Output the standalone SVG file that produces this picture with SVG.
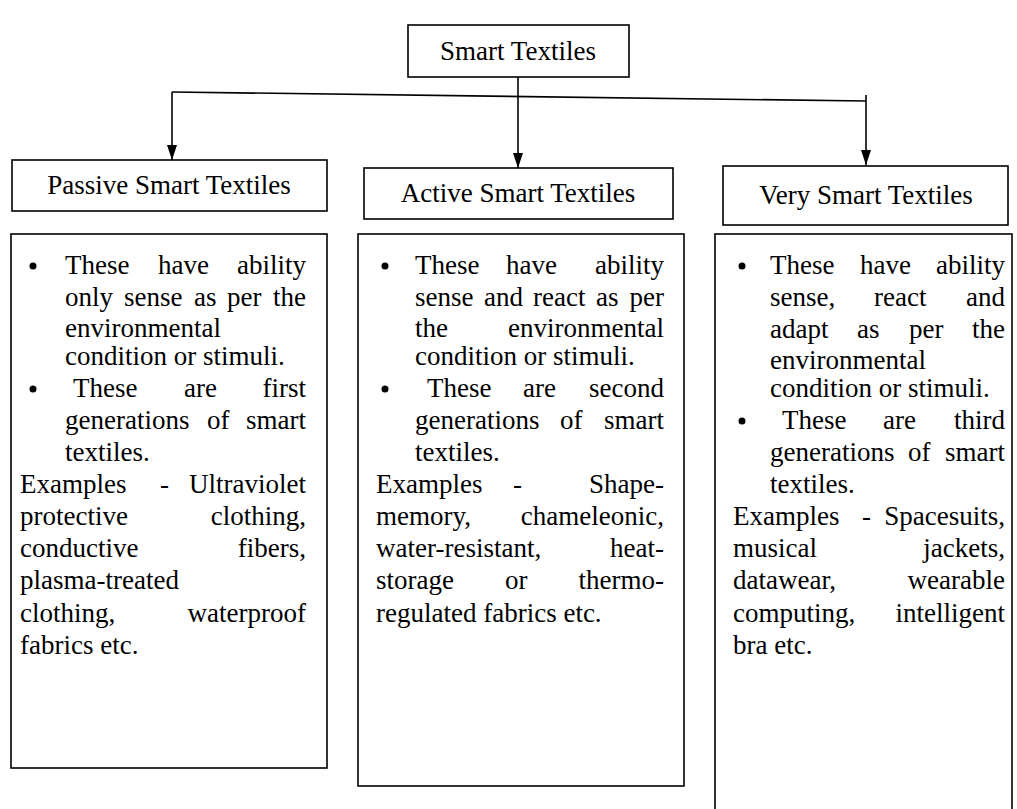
<svg xmlns="http://www.w3.org/2000/svg" width="1017" height="809" viewBox="0 0 1017 809">
<style>
.box{fill:#fff;stroke:#000;stroke-width:1.6}
.ln{stroke:#000;stroke-width:1.6;fill:none}
text{font-family:"Liberation Serif","Times New Roman",serif;font-size:27px;fill:#000}
.e{text-anchor:end}
.c{text-anchor:middle}
</style>
<defs>
<marker id="ah" viewBox="0 0 15 10" refX="15" refY="5" markerWidth="15" markerHeight="10" markerUnits="userSpaceOnUse" orient="auto">
<path d="M0,0 L15,5 L0,10 Z" fill="#000"/>
</marker>
</defs>
<rect width="1017" height="809" fill="#fff"/>
<g id="connectors">
<line class="ln" x1="172" y1="92" x2="866" y2="101"/>
<line class="ln" x1="518" y1="77" x2="518" y2="168" marker-end="url(#ah)"/>
<line class="ln" x1="172" y1="92" x2="172" y2="160" marker-end="url(#ah)"/>
<line class="ln" x1="866" y1="95" x2="866" y2="165" marker-end="url(#ah)"/>
</g>
<g id="root">
<rect class="box" x="408" y="25" width="221" height="52"/>
<text class="c" x="518" y="60">Smart Textiles</text>
</g>
<g id="passive">
<rect class="box" x="12" y="160" width="315" height="51"/>
<text class="c" x="169" y="194">Passive  Smart Textiles</text>
</g>
<g id="active">
<rect class="box" x="364" y="168" width="309" height="51"/>
<text class="c" x="518" y="202">Active  Smart Textiles</text>
</g>
<g id="very">
<rect class="box" x="723" y="166" width="285" height="59"/>
<text class="c" x="866" y="204">Very Smart Textiles</text>
</g>
<g id="passive-desc">
<rect class="box" x="11" y="234" width="316" height="534"/>
<circle cx="33" cy="266" r="3.5"/>
<circle cx="33" cy="389" r="3.5"/>
<text y="274"><tspan x="65">These</tspan><tspan x="158">have</tspan></text><text class="e" x="306" y="274">ability</text>
<text y="306"><tspan x="65">only</tspan><tspan x="124">sense</tspan><tspan x="194">as</tspan><tspan x="227">per</tspan></text><text class="e" x="306" y="306">the</text>
<text x="65" y="337">environmental</text>
<text x="65" y="365">condition or stimuli.</text>
<text y="397"><tspan x="73">These</tspan><tspan x="184">are</tspan></text><text class="e" x="306" y="397">first</text>
<text y="429"><tspan x="65">generations</tspan><tspan x="207">of</tspan></text><text class="e" x="306" y="429">smart</text>
<text x="65" y="461">textiles.</text>
<text y="493"><tspan x="20">Examples</tspan><tspan x="160">-</tspan></text><text class="e" x="306" y="493">Ultraviolet</text>
<text x="20" y="525">protective</text><text class="e" x="306" y="525">clothing,</text>
<text x="20" y="557">conductive</text><text class="e" x="306" y="557">fibers,</text>
<text x="20" y="589">plasma-treated</text>
<text x="20" y="622">clothing,</text><text class="e" x="306" y="622">waterproof</text>
<text x="20" y="654">fabrics  etc.</text>
</g>
<g id="active-desc">
<rect class="box" x="358" y="234" width="326" height="552"/>
<circle cx="385" cy="266" r="3.5"/>
<circle cx="385" cy="389" r="3.5"/>
<text y="274"><tspan x="415">These</tspan><tspan x="506">have</tspan></text><text class="e" x="664" y="274">ability</text>
<text y="306"><tspan x="415">sense</tspan><tspan x="484">and</tspan><tspan x="533">react</tspan><tspan x="596">as</tspan></text><text class="e" x="664" y="306">per</text>
<text x="415" y="337">the</text><text class="e" x="664" y="337">environmental</text>
<text x="415" y="365">condition or stimuli.</text>
<text y="397"><tspan x="427">These</tspan><tspan x="523">are</tspan></text><text class="e" x="664" y="397">second</text>
<text y="429"><tspan x="415">generations</tspan><tspan x="560">of</tspan></text><text class="e" x="664" y="429">smart</text>
<text x="415" y="461">textiles.</text>
<text y="493"><tspan x="376">Examples</tspan><tspan x="513">-</tspan></text><text class="e" x="664" y="493">Shape-</text>
<text x="376" y="525">memory,</text><text class="e" x="664" y="525">chameleonic,</text>
<text x="376" y="557">water-resistant,</text><text class="e" x="664" y="557">heat-</text>
<text y="589"><tspan x="376">storage</tspan><tspan x="505">or</tspan></text><text class="e" x="664" y="589">thermo-</text>
<text x="376" y="622">regulated  fabrics  etc.</text>
</g>
<g id="very-desc">
<rect class="box" x="715" y="234" width="297" height="590"/>
<circle cx="742" cy="266" r="3.5"/>
<circle cx="742" cy="421" r="3.5"/>
<text y="274"><tspan x="770">These</tspan><tspan x="860">have</tspan></text><text class="e" x="1005" y="274">ability</text>
<text y="306"><tspan x="770">sense,</tspan><tspan x="874">react</tspan></text><text class="e" x="1005" y="306">and</text>
<text y="338"><tspan x="770">adapt</tspan><tspan x="857">as</tspan><tspan x="909">per</tspan></text><text class="e" x="1005" y="338">the</text>
<text x="770" y="369">environmental</text>
<text x="770" y="397">condition or stimuli.</text>
<text y="429"><tspan x="782">These</tspan><tspan x="883">are</tspan></text><text class="e" x="1005" y="429">third</text>
<text y="461"><tspan x="770">generations</tspan><tspan x="908">of</tspan></text><text class="e" x="1005" y="461">smart</text>
<text x="770" y="493">textiles.</text>
<text y="525"><tspan x="733">Examples</tspan><tspan x="862">-</tspan></text><text class="e" x="1005" y="525">Spacesuits,</text>
<text x="733" y="557">musical</text><text class="e" x="1005" y="557">jackets,</text>
<text x="733" y="589">datawear,</text><text class="e" x="1005" y="589">wearable</text>
<text x="733" y="622">computing,</text><text class="e" x="1005" y="622">intelligent</text>
<text x="733" y="654">bra etc.</text>
</g>
</svg>
